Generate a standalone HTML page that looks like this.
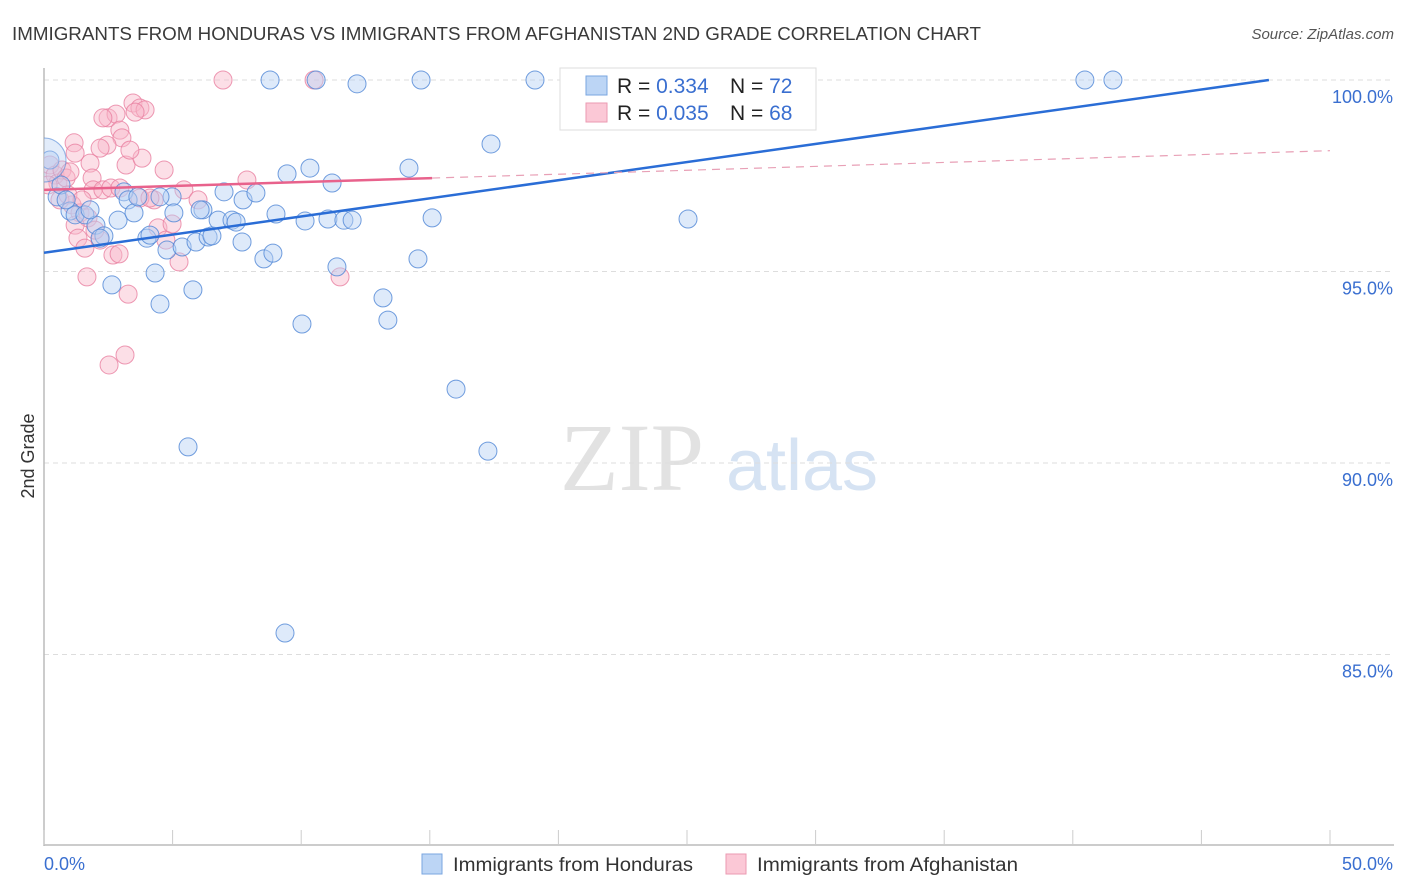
<!DOCTYPE html>
<html><head><meta charset="utf-8"><style>
body{margin:0;background:#fff;font-family:"Liberation Sans",sans-serif;}
svg{display:block}
</style></head><body>
<svg width="1406" height="892" id="chart">
<defs><clipPath id="plotclip"><rect x="44" y="60" width="1360" height="786"/></clipPath></defs>
<text x="12" y="40" font-size="18" fill="#3a3a3a" textLength="969" lengthAdjust="spacingAndGlyphs">IMMIGRANTS FROM HONDURAS VS IMMIGRANTS FROM AFGHANISTAN 2ND GRADE CORRELATION CHART</text>
<text x="1394" y="39" font-size="15" fill="#555" font-style="italic" text-anchor="end">Source: ZipAtlas.com</text>
<text x="34" y="456" font-size="18" fill="#333" transform="rotate(-90 34 456)" text-anchor="middle">2nd Grade</text>
<g><text x="632" y="490" font-size="96" font-family="Liberation Serif,serif" fill="#e2e2e2" text-anchor="middle">ZIP</text><text x="802" y="490" font-size="72" fill="#d6e3f3" text-anchor="middle">atlas</text></g>
<g id="grid"></g><g id="axes"></g><g id="pts" clip-path="url(#plotclip)"></g><g id="trends"></g>
<g>
<rect x="560" y="68" width="256" height="62" fill="#fff" stroke="#ddd"/>
<rect x="586" y="76" width="21" height="19" fill="#bcd5f5" stroke="#7aa6e0"/>
<rect x="586" y="103" width="21" height="19" fill="#fbc8d6" stroke="#eb9ab2"/>
<text x="617" y="93" font-size="21" fill="#222">R = <tspan fill="#3a6fd0">0.334</tspan><tspan x="730">N = </tspan><tspan fill="#3a6fd0">72</tspan></text>
<text x="617" y="120" font-size="21" fill="#222">R = <tspan fill="#3a6fd0">0.035</tspan><tspan x="730">N = </tspan><tspan fill="#3a6fd0">68</tspan></text>
</g>
<g>
<rect x="422" y="854" width="20" height="20" fill="#bcd5f5" stroke="#7aa6e0"/>
<text x="453" y="871" font-size="19" fill="#333" textLength="240" lengthAdjust="spacingAndGlyphs">Immigrants from Honduras</text>
<rect x="726" y="854" width="20" height="20" fill="#fbc8d6" stroke="#eb9ab2"/>
<text x="757" y="871" font-size="19" fill="#333" textLength="261" lengthAdjust="spacingAndGlyphs">Immigrants from Afghanistan</text>
</g>
</svg>
<script>
const xTicks=[0,5,10,15,20,25,30,35,40,45,50];
const yTicks=[100,95,90,85];
const yTickLabels=["100.0%","95.0%","90.0%","85.0%"];
const xEndLabels=["0.0%","50.0%"];
const hondurasX=[.23,.51,1.01,1.21,1.59,2.02,2.33,2.64,2.88,3.11,3.27,3.50,3.65,4.00,4.12,4.32,4.51,4.78,4.98,5.05,5.37,5.79,5.91,6.18,6.38,6.53,6.77,7.00,7.31,7.47,7.70,7.74,8.24,8.55,8.90,9.02,9.45,10.03,10.15,10.34,11.04,11.20,11.39,11.66,11.98,13.18,13.37,14.19,14.54,15.09,16.02,17.26,17.38,25.04,5.60,9.37,8.79,10.58,12.17,14.66,19.09,23.83,28.23,40.47,41.56,.66,2.18,4.51,6.07,1.79,.86];
const hondurasY=[97.91,96.95,96.58,96.48,96.48,96.21,95.93,94.65,96.34,97.08,96.87,96.53,96.95,95.87,95.95,94.96,94.15,95.56,96.95,96.53,95.64,94.52,95.77,96.61,95.90,95.93,96.34,97.08,96.34,96.29,95.77,96.87,97.05,95.33,95.48,96.50,97.55,93.63,96.32,97.70,96.37,97.31,95.12,96.34,96.34,94.31,93.73,97.70,95.33,96.40,91.93,90.31,98.33,96.37,90.42,85.56,100,100,99.9,100,100,100,100,100,100,97.26,95.87,96.95,96.61,96.61,96.87];
const afghanX=[6.96,10.50,.23,.43,.54,.70,.86,1.01,.16,2.49,2.80,2.95,3.03,2.45,3.19,3.81,3.46,3.73,3.93,3.54,4.67,1.79,1.87,1.17,1.21,2.18,1.91,2.29,2.60,2.95,4.28,5.44,5.99,7.89,1.09,1.40,1.71,1.21,1.32,1.59,2.18,2.68,2.92,3.27,1.67,2.53,3.15,5.25,4.43,4.74,4.98,11.51,.62,.93,1.48,1.98,3.73,3.34,2.29,4.12];
const afghanY=[100,100,97.78,97.52,97.31,97.65,97.44,97.60,97.26,99.01,99.11,98.69,98.49,98.30,97.78,97.96,99.40,99.27,99.22,99.16,97.65,97.83,97.44,98.36,98.09,98.22,97.13,97.13,97.18,97.18,96.87,97.13,96.87,97.39,96.74,96.53,96.40,96.21,95.87,95.61,95.82,95.43,95.46,94.41,94.86,92.56,92.82,95.25,96.14,95.82,96.24,94.86,96.87,97.0,96.87,96.08,96.92,98.17,99.01,96.92];
const hondurasTrend=[95.49,0.0947];
const afghanTrend=[97.13,0.0205];
const NS='http://www.w3.org/2000/svg';
const X=v=>44+v/50*1286, Y=v=>80+(100-v)/5*191.5;
function mk(t,a,p){const e=document.createElementNS(NS,t);for(const k in a)e.setAttribute(k,a[k]);p.appendChild(e);return e;}
const grid=document.getElementById('grid'),axes=document.getElementById('axes'),pts=document.getElementById('pts'),tr=document.getElementById('trends');
yTicks.forEach((v,i)=>{
 const l=mk('line',{x1:44,x2:1394,y1:Y(v),y2:Y(v),stroke:'#ddd','stroke-dasharray':'5,4'},grid);
 
 
 const t=mk('text',{x:1393,y:Y(v)+23,'font-size':18,fill:'#3a6fd0','text-anchor':'end'},axes);t.textContent=yTickLabels[i];
 
 
});
mk('line',{x1:44,x2:44,y1:68,y2:846,stroke:'#bbb','stroke-width':1.5},axes);
mk('line',{x1:44,x2:1394,y1:845,y2:845,stroke:'#bbb','stroke-width':1.5},axes);
xTicks.forEach(v=>{const l=mk('line',{x1:X(v),x2:X(v),y1:830,y2:845,stroke:'#ccc'},axes);
 
 });
[[0,'start'],[50,'end']].forEach((p,i)=>{const t=mk('text',{x:i?1393:44,y:870,'font-size':18,fill:'#3a6fd0','text-anchor':p[1]},axes);t.textContent=xEndLabels[i];
 
 });
function series(xs,ys,fill,stroke,name){xs.forEach((x,i)=>{const c=mk('circle',{cx:X(x),cy:Y(ys[i]),r:9,fill:fill,'fill-opacity':0.45,stroke:stroke,'stroke-opacity':0.8,'stroke-width':1},pts);
 
 });}
series(afghanX,afghanY,'#f9b8ca','#e87fa0','afghanistan-point');
series(hondurasX,hondurasY,'#b6d0f3','#4f86d6','honduras-point');
const big=mk('circle',{cx:X(0),cy:Y(97.91),r:22,fill:'#b6d0f3','fill-opacity':0.4,stroke:'#4f86d6','stroke-opacity':0.6},pts);


const hx2=(100-hondurasTrend[0])/hondurasTrend[1];
const bl=mk('line',{x1:X(0),y1:Y(hondurasTrend[0]),x2:X(hx2),y2:Y(100),stroke:'#2a6dd6','stroke-width':2.5},tr);


const pl=mk('line',{x1:X(0),y1:Y(afghanTrend[0]),x2:X(15.09),y2:Y(afghanTrend[0]+afghanTrend[1]*15.09),stroke:'#e8628c','stroke-width':2.5},tr);


const pd=mk('line',{x1:X(15.09),y1:Y(afghanTrend[0]+afghanTrend[1]*15.09),x2:X(50),y2:Y(afghanTrend[0]+afghanTrend[1]*50),stroke:'#e8a0b6','stroke-width':1.2,'stroke-dasharray':'8,6'},tr);


</script>
</body></html>
